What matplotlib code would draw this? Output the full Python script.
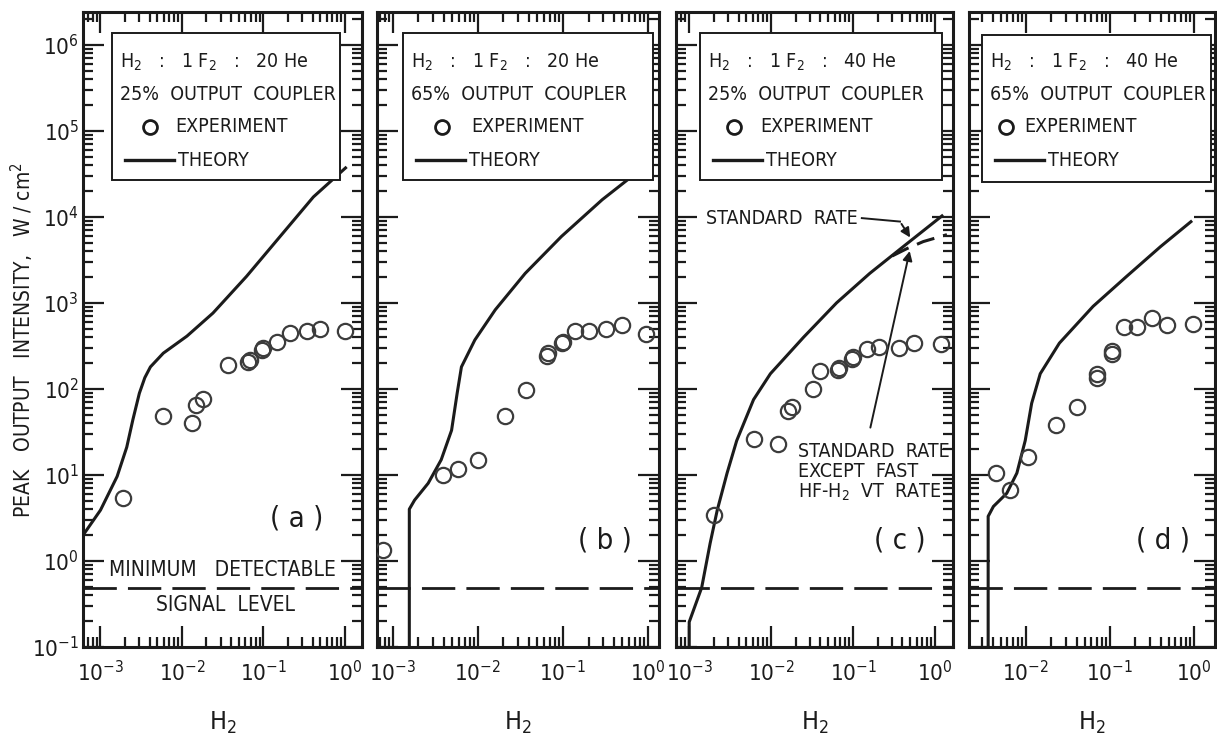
import matplotlib.pyplot as plt
import matplotlib.ticker as mticker
from matplotlib.patches import Rectangle
import numpy as np

plt.rcParams['font.family'] = ['DejaVu Sans']
plt.rcParams['font.stretch'] = 'condensed'
plt.rcParams['mathtext.fontset'] = 'custom'
plt.rcParams['mathtext.rm'] = 'DejaVu Sans:stretch=condensed'
plt.rcParams['mathtext.it'] = 'DejaVu Sans:stretch=condensed'
plt.rcParams['mathtext.bf'] = 'DejaVu Sans:stretch=condensed:weight=bold'

INK = '#1b1b1b'
CIRCLE = '#3c3c3c'
MIN_SIGNAL = 0.48

# (a) H2 : 1 F2 : 20 He, 25% output coupler
a_theory_x = [5.9e-4, 1.0e-3, 1.6e-3, 2.1e-3, 2.5e-3, 3.0e-3, 3.5e-3, 4.1e-3, 5.9e-3,
              0.0115, 0.024, 0.062, 0.16, 0.41, 1.05]
a_theory_y = [1.9, 3.9, 9.6, 21, 44, 89, 135, 180, 260, 410, 760, 2030, 5900, 17000, 38000]
a_exp_x = [1.9e-3, 5.9e-3, 0.0134, 0.015, 0.018, 0.037, 0.065, 0.068, 0.095, 0.1,
           0.145, 0.21, 0.34, 0.5, 1.0]
a_exp_y = [5.4, 48, 40, 65, 76, 190, 205, 218, 280, 297, 355, 450, 475, 500, 465]

# (b) H2 : 1 F2 : 20 He, 65% output coupler
b_theory_x = [1.56e-3, 1.56e-3, 1.8e-3, 2.6e-3, 3.7e-3, 4.9e-3, 5.7e-3, 6.4e-3,
              9.2e-3, 0.016, 0.036, 0.096, 0.29, 0.96]
b_theory_y = [0.1, 4.0, 5.1, 8, 15, 33, 89, 180, 370, 830, 2200, 5900, 15800, 40000]
b_exp_x = [7.7e-4, 3.9e-3, 5.9e-3, 0.01, 0.021, 0.037, 0.065, 0.066, 0.098, 0.1,
           0.138, 0.2, 0.32, 0.49, 0.96]
b_exp_y = [1.34, 10, 11.7, 15, 49, 98, 240, 260, 340, 355, 475, 465, 495, 555, 435]

# (c) H2 : 1 F2 : 40 He, 25% output coupler
c_theory_x = [1.0e-3, 1.0e-3, 1.42e-3, 1.8e-3, 2.2e-3, 2.9e-3, 3.8e-3, 6.1e-3,
              9.8e-3, 0.025, 0.063, 0.16, 0.41, 1.26]
c_theory_y = [0.1, 0.195, 0.49, 1.6, 3.9, 10.5, 25, 75, 150, 400, 1000, 2200, 4500, 10500]
c_fast_x = [0.3, 0.45, 0.72, 1.4]
c_fast_y = [3500, 4250, 5150, 6200]
c_exp_x = [2.0e-3, 6.1e-3, 0.0123, 0.016, 0.018, 0.032, 0.039, 0.066, 0.068, 0.098,
           0.1, 0.148, 0.21, 0.36, 0.56, 1.18]
c_exp_y = [3.4, 26, 23, 55, 61, 99, 160, 165, 175, 222, 235, 290, 305, 297, 340, 330]

# (d) H2 : 1 F2 : 40 He, 65% output coupler
d_theory_x = [3.55e-3, 3.55e-3, 4.1e-3, 5.9e-3, 7.8e-3, 9.8e-3, 0.0117, 0.0148,
              0.025, 0.063, 0.158, 0.4, 0.95]
d_theory_y = [0.1, 3.3, 4.3, 6.1, 10.5, 25, 68, 150, 340, 910, 2030, 4500, 9000]
d_exp_x = [4.4e-3, 6.4e-3, 0.0107, 0.023, 0.04, 0.07, 0.07, 0.105, 0.105,
           0.147, 0.21, 0.32, 0.48, 0.98]
d_exp_y = [10.5, 6.7, 16, 38, 62, 135, 150, 255, 275, 530, 530, 660, 555, 570]

panels = [
    dict(tag='( a )', mix='20', coupler='25%', frame=(83, 362), xlim=(6.1e-4, 1.62),
         box=(112, 33, 340, 180), marks=(38, 63), tagpos=(297, 518),
         theory=(a_theory_x, a_theory_y), exp=(a_exp_x, a_exp_y)),
    dict(tag='( b )', mix='20', coupler='65%', frame=(377, 659), xlim=(6.5e-4, 1.35),
         box=(403, 33, 653, 180), marks=(39, 68), tagpos=(605, 540),
         theory=(b_theory_x, b_theory_y), exp=(b_exp_x, b_exp_y)),
    dict(tag='( c )', mix='40', coupler='25%', frame=(676, 953), xlim=(6.9e-4, 1.66),
         box=(700, 33, 942, 180), marks=(34, 60), tagpos=(900, 540),
         theory=(c_theory_x, c_theory_y), exp=(c_exp_x, c_exp_y)),
    dict(tag='( d )', mix='40', coupler='65%', frame=(969, 1215), xlim=(2.1e-3, 1.78),
         box=(982, 35, 1211, 182), marks=(24, 42), tagpos=(1163, 540),
         theory=(d_theory_x, d_theory_y), exp=(d_exp_x, d_exp_y)),
]

W, H = 1217, 739
TOP, BOTTOM = 12, 647
YLIM = (0.1, 10 ** 6.38)


def decades(lo, hi):
    # powers of ten that fall inside [lo, hi]
    return [10.0 ** k for k in range(int(np.ceil(np.log10(lo) - 1e-9)),
                                      int(np.floor(np.log10(hi) + 1e-9)) + 1)]


fig = plt.figure(figsize=(W / 100, H / 100), dpi=100)

axes = []
for i, p in enumerate(panels):
    left, right = p['frame']
    ax = fig.add_axes([left / W, 1 - BOTTOM / H, (right - left) / W, (BOTTOM - TOP) / H])
    axes.append(ax)

    def axpos(px, py, left=left, right=right):
        return ((px - left) / (right - left), (BOTTOM - py) / (BOTTOM - TOP))

    ax.set_xscale('log')
    ax.set_yscale('log')
    ax.set_xlim(*p['xlim'])
    ax.set_ylim(*YLIM)

    ax.xaxis.set_major_locator(mticker.FixedLocator(decades(*p['xlim'])))
    ax.yaxis.set_major_locator(mticker.FixedLocator(decades(*YLIM)))
    for axis in (ax.xaxis, ax.yaxis):
        axis.set_major_formatter(mticker.LogFormatterMathtext())
        axis.set_minor_locator(mticker.LogLocator(base=10, subs=np.arange(2, 10), numticks=12))
        axis.set_minor_formatter(mticker.NullFormatter())
    ax.tick_params(which='both', direction='in', top=True, right=True, width=1.6, color=INK)
    ax.tick_params(which='major', length=15)
    ax.tick_params(which='minor', length=7)
    ax.tick_params(axis='x', labelsize=16, pad=9, colors=INK)
    ax.tick_params(axis='y', labelsize=16, pad=3, colors=INK)
    if i > 0:
        ax.tick_params(labelleft=False)
    for sp in ax.spines.values():
        sp.set_linewidth(2.2)
        sp.set_color(INK)

    ax.axhline(MIN_SIGNAL, color=INK, lw=2.0, dashes=(12, 4))

    tx, ty = p['theory']
    ax.plot(tx, ty, color=INK, lw=2.2, solid_capstyle='butt', zorder=3)
    ex, ey = p['exp']
    ax.plot(ex, ey, 'o', mfc='none', mec=CIRCLE, ms=11, mew=1.6, zorder=4)

    ax.set_xlabel('H$_2$', fontsize=18, labelpad=18, color=INK)

    # legend box
    bx0, by0, bx1, by1 = p['box']
    x0, y1 = axpos(bx0, by0)
    x1, y0 = axpos(bx1, by1)
    ax.add_patch(Rectangle((x0, y0), x1 - x0, y1 - y0, transform=ax.transAxes,
                           fill=True, fc='white', ec=INK, lw=1.4, zorder=5))
    tkw = dict(transform=ax.transAxes, fontsize=14, color=INK, va='center', zorder=6)
    ax.text(*axpos(bx0 + 8, 62), 'H$_2$   :   1 F$_2$   :   %s He' % p['mix'], **tkw)
    ax.text(*axpos(bx0 + 8, 94), '%s  OUTPUT  COUPLER' % p['coupler'], **tkw)
    cdx, edx = p['marks']
    ax.plot(*axpos(bx0 + cdx, 127), 'o', mfc='none', mec=INK, ms=10, mew=2,
            transform=ax.transAxes, zorder=6)
    ax.text(*axpos(bx0 + edx, 127), 'EXPERIMENT', **tkw)
    lx0, ly = axpos(bx0 + 13, 160)
    lx1, _ = axpos(bx0 + 62, 160)
    ax.plot([lx0, lx1], [ly, ly], color=INK, lw=2.4, transform=ax.transAxes, zorder=6)
    ax.text(*axpos(bx0 + 66, 160), 'THEORY', **tkw)

    ax.text(*axpos(*p['tagpos']), p['tag'], transform=ax.transAxes, fontsize=21,
            ha='center', va='center', color=INK)

# minimum detectable signal level, panel (a)
axes[0].text(0.5, 0.79, 'MINIMUM   DETECTABLE', transform=axes[0].get_yaxis_transform(),
             ha='center', va='center', fontsize=15, color=INK)
axes[0].text(0.51, 0.31, 'SIGNAL  LEVEL', transform=axes[0].get_yaxis_transform(),
             ha='center', va='center', fontsize=15, color=INK)

# panel (c): fast VT rate branch and labels
axc = axes[2]
axc.plot(c_fast_x, c_fast_y, color=INK, lw=2.2, dashes=(6, 3), zorder=3)
axc.text(0.0016, 9650, 'STANDARD  RATE', fontsize=14, va='center', color=INK)
axc.plot([0.128, 0.374], [9650, 8800], color=INK, lw=1.4)
axc.annotate('', xy=(0.52, 5400), xytext=(0.374, 8800),
             arrowprops=dict(arrowstyle='-|>', color=INK, lw=1.4, mutation_scale=14))
axc.annotate('', xy=(0.5, 4300), xytext=(0.16, 33),
             arrowprops=dict(arrowstyle='-|>', color=INK, lw=1.4, mutation_scale=14))
axc.text(0.021, 24, 'STANDARD  RATE\nEXCEPT  FAST\nHF-H$_2$  VT  RATE', fontsize=14,
         va='top', ha='left', color=INK, linespacing=1.05)

fig.text(22 / W, 1 - 340 / H, 'PEAK   OUTPUT   INTENSITY,   W / cm$^2$', rotation=90,
         ha='center', va='center', fontsize=15, color=INK)

fig.savefig('out.png', dpi=100)
